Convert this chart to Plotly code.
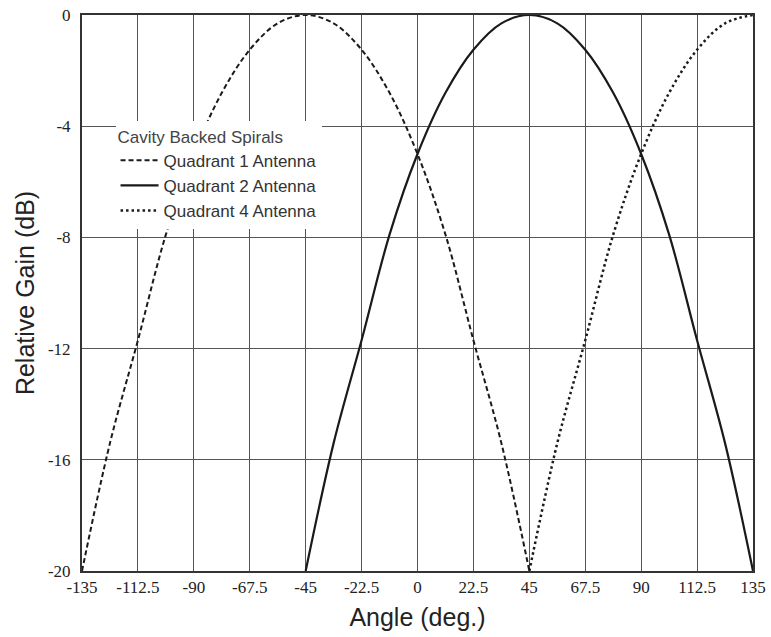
import plotly.graph_objects as go

# Angles (deg) and relative gain (dB)
q1_angle = [-135, -123.75, -112.5, -101.25, -90, -78.75, -67.5, -56.25, -45,
            -33.75, -22.5, -11.25, 0, 11.25, 22.5, 33.75, 45]
q1_gain = [-20, -15.4, -11.7, -7.9, -5.0, -2.8, -1.25, -0.3, 0,
           -0.3, -1.25, -2.8, -5.0, -7.9, -11.7, -15.4, -20]

q2_angle = [-45, -33.75, -22.5, -11.25, 0, 11.25, 22.5, 33.75, 45,
            56.25, 67.5, 78.75, 90, 101.25, 112.5, 123.75, 135]
q2_gain = [-20, -15.4, -11.7, -7.9, -5.0, -2.8, -1.25, -0.3, 0,
           -0.3, -1.25, -2.8, -5.0, -7.9, -11.7, -15.4, -20]

q4_angle = [45, 56.25, 67.5, 78.75, 90, 101.25, 112.5, 123.75, 135]
q4_gain = [-20, -15.4, -11.7, -7.9, -5.0, -2.8, -1.25, -0.3, 0]

x_ticks = [-135, -112.5, -90, -67.5, -45, -22.5, 0, 22.5, 45, 67.5, 90, 112.5, 135]
x_tick_text = ["-135", "-112.5", "-90", "-67.5", "-45", "-22.5", "0", "22.5",
               "45", "67.5", "90", "112.5", "135"]
y_ticks = [-20, -16, -12, -8, -4, 0]
y_tick_text = ["-20", "-16", "-12", "-8", "-4", "0"]

line_color = "#1a1a1a"

fig = go.Figure()
fig.add_trace(go.Scatter(x=q1_angle, y=q1_gain, mode="lines", name="Quadrant 1 Antenna",
                         line=dict(color=line_color, width=2, dash="5px,3px", shape="spline")))
fig.add_trace(go.Scatter(x=q2_angle, y=q2_gain, mode="lines", name="Quadrant 2 Antenna",
                         line=dict(color=line_color, width=2.2, shape="spline")))
fig.add_trace(go.Scatter(x=q4_angle, y=q4_gain, mode="lines", name="Quadrant 4 Antenna",
                         line=dict(color=line_color, width=2.5, dash="2.5px,3px", shape="spline")))

grid_color = "#555555"
tick_font = dict(family="Liberation Serif", size=17, color="#222")
fig.update_layout(
    width=771, height=637,
    margin=dict(l=82, r=18, t=15, b=66),
    paper_bgcolor="white", plot_bgcolor="white",
    showlegend=True,
    legend=dict(
        title=dict(text="Cavity Backed Spirals", font=dict(family="Liberation Sans", size=17, color="#444")),
        font=dict(family="Liberation Sans", size=17, color="#333"),
        x=0.05, y=0.81, xanchor="left", yanchor="top",
        bgcolor="white", borderwidth=0,
        itemwidth=38, tracegroupgap=0,
    ),
    xaxis=dict(
        range=[-135, 135], tickvals=x_ticks, ticktext=x_tick_text,
        showgrid=True, gridcolor=grid_color, gridwidth=1.3,
        showline=True, linecolor="#333", linewidth=2, mirror=True,
        zeroline=False, ticks="", automargin=False, ticklabeloverflow="allow",
        tickfont=tick_font,
        title=dict(text="Angle (deg.)", font=dict(family="Liberation Sans", size=25, color="#222"), standoff=12),
    ),
    yaxis=dict(
        range=[-20, 0], tickvals=y_ticks, ticktext=y_tick_text,
        showgrid=True, gridcolor=grid_color, gridwidth=1.3,
        showline=True, linecolor="#333", linewidth=2, mirror=True,
        zeroline=False, ticks="", ticklabelstandoff=6, automargin=False,
        ticklabeloverflow="allow",
        tickfont=tick_font,
        title=dict(text="Relative Gain (dB)", font=dict(family="Liberation Sans", size=25, color="#222"), standoff=6),
    ),
)

# remove the default page margin so the 771x637 figure fills the window exactly
fig.write_html("out.html",
               config={"displayModeBar": False},
               post_script="document.body.style.margin='0';document.body.style.overflow='hidden';")
